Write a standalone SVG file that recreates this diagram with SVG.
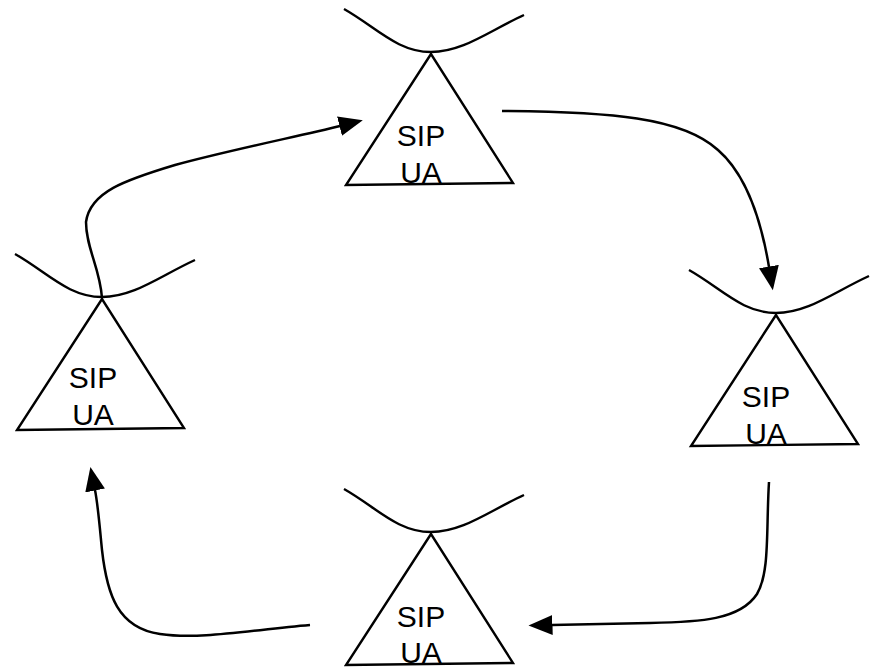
<svg xmlns="http://www.w3.org/2000/svg" width="877" height="667" viewBox="0 0 877 667">
  <style>
    .shape { fill: none; stroke: #000; stroke-width: 2.4; stroke-linejoin: miter; }
    .link { fill: none; stroke: #000; stroke-width: 2.5; }
    .label { font-family: "Liberation Sans", Arial, sans-serif; font-size: 30px; fill: #000; text-anchor: middle; }
  </style>
  <defs>
    <!-- filled arrowhead, 24 long and 20 wide, drawn forward from the path end -->
    <marker id="arrow" markerUnits="userSpaceOnUse" viewBox="0 0 25 20" markerWidth="25" markerHeight="20" refX="0.5" refY="10" orient="auto">
      <path d="M0,0 L24,10 L0,20 Z" fill="#000"/>
    </marker>
    <!-- user agent: curved cross-line meeting the apex of a triangle -->
    <g id="ua-shape">
      <path class="shape" d="M-87,-43 C-55,-25 -34,0 0,0 C32,0 58,-21 93,-37"/>
      <path class="shape" d="M0,2 L-85,133 L82,131 Z"/>
    </g>
  </defs>

  <g id="links">
    <path class="link" marker-end="url(#arrow)" d="M102,298 C100,268 86,248 86,222 C90,192 125,180 175,165 C230,150 300,136 340,126"/>
    <path class="link" marker-end="url(#arrow)" d="M502,111 C610,112 682,117 718,150 C748,176 762,225 769,267"/>
    <path class="link" marker-end="url(#arrow)" d="M769,482 C766,530 770,572 757,594 C740,620 700,622 650,623 L552,625"/>
    <path class="link" marker-end="url(#arrow)" d="M310,625 C250,630 200,640 160,634 C118,628 107,595 102,550 C100,530 98,505 95,490"/>
  </g>

  <g id="ua-top" transform="translate(431,52)">
    <use href="#ua-shape"/>
    <text class="label" x="-10" y="94">SIP</text>
    <text class="label" x="-10" y="131">UA</text>
  </g>

  <g id="ua-right" transform="translate(776,313)">
    <use href="#ua-shape"/>
    <text class="label" x="-10" y="94">SIP</text>
    <text class="label" x="-10" y="131">UA</text>
  </g>

  <g id="ua-bottom" transform="translate(431,532)">
    <use href="#ua-shape"/>
    <text class="label" x="-10" y="95">SIP</text>
    <text class="label" x="-10" y="131">UA</text>
  </g>

  <g id="ua-left" transform="translate(102,297)">
    <use href="#ua-shape"/>
    <text class="label" x="-9" y="91">SIP</text>
    <text class="label" x="-9" y="128">UA</text>
  </g>
</svg>
